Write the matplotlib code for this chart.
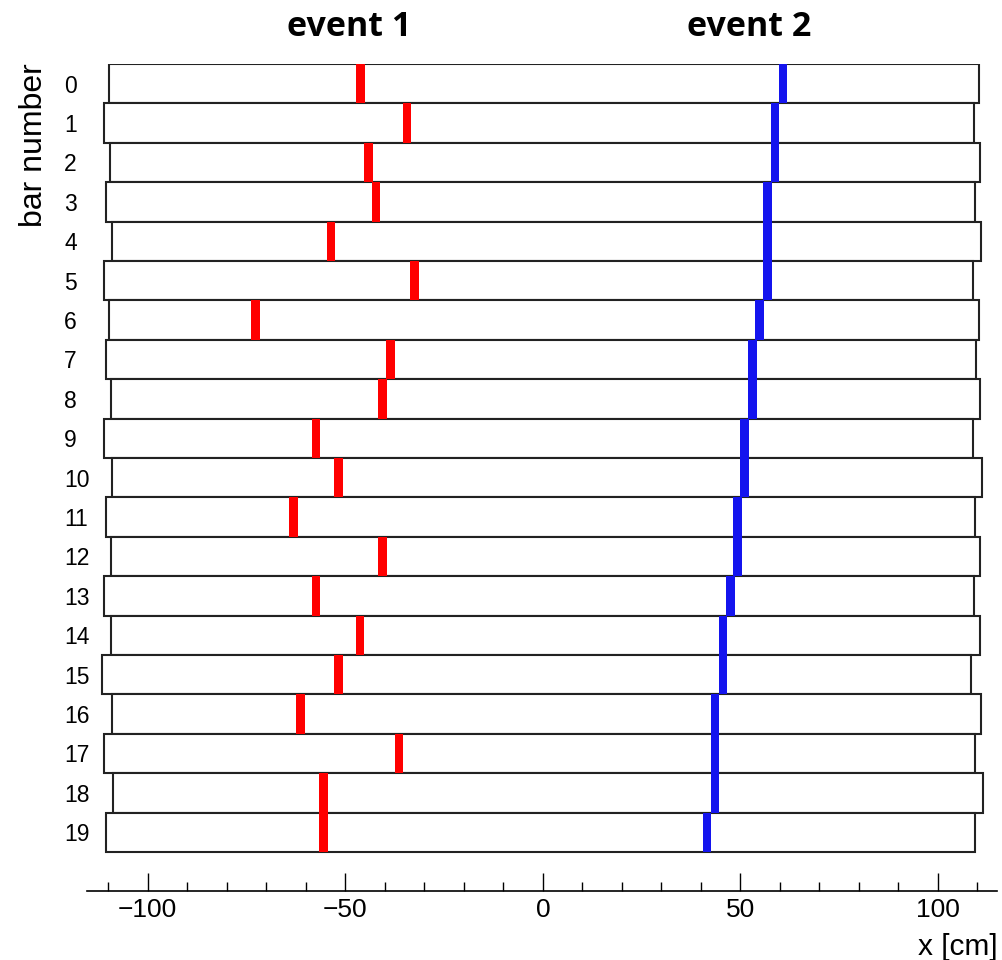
import matplotlib.pyplot as plt

# bar outlines (cm)
bar_left = [-109.8, -111.1, -109.5, -110.7, -109.1, -111.2, -109.7, -110.6, -109.4, -111.2,
            -109.1, -110.7, -109.4, -111.1, -109.4, -111.5, -109.0, -111.0, -108.7, -110.7]
bar_right = [110.4, 109.2, 110.7, 109.4, 111.0, 108.9, 110.5, 109.6, 110.8, 108.9,
             111.1, 109.4, 110.8, 109.2, 110.8, 108.5, 111.0, 109.3, 111.4, 109.4]

# hit positions (cm)
hit1 = [-46.1, -34.4, -44.2, -42.2, -53.6, -32.5, -72.8, -38.6, -40.6, -57.4,
        -51.8, -63.2, -40.6, -57.4, -46.3, -51.8, -61.4, -36.4, -55.6, -55.6]
hit2 = [60.8, 58.8, 58.8, 56.9, 56.9, 56.9, 54.9, 53.0, 53.0, 51.0,
        51.0, 49.2, 49.2, 47.5, 45.6, 45.6, 43.6, 43.6, 43.6, 41.6]

bars = list(range(20))
hit_w = 2.2

plt.rcParams['font.family'] = ['Liberation Sans', 'DejaVu Sans']

fig = plt.figure(figsize=(10.02, 9.6), dpi=100)
ax = fig.add_axes([0.0868, 0.0719, 0.9079, 0.8615])

widths = [r - l for l, r in zip(bar_left, bar_right)]
ax.barh(bars, widths, left=bar_left, height=1.0, facecolor='white',
        edgecolor='#222222', linewidth=1.5, zorder=1)
ax.barh(bars, [hit_w] * 20, left=[h - hit_w / 2 for h in hit1], height=1.0,
        color='#ff0000', linewidth=0, zorder=2)
ax.barh(bars, [hit_w] * 20, left=[h - hit_w / 2 for h in hit2], height=1.0,
        color='#1414ee', linewidth=0, zorder=2)

ax.set_xlim(-115.4, 114.9)
ax.set_ylim(20.49, -0.5)

for s in ['top', 'right', 'left']:
    ax.spines[s].set_visible(False)
ax.spines['bottom'].set_linewidth(1.2)

ax.set_xticks([-100, -50, 0, 50, 100])
ax.set_xticks(range(-110, 111, 10), minor=True)
ax.tick_params(axis='x', which='major', direction='in', length=12.7, width=1.0,
               labelsize=19, pad=5)
ax.tick_params(axis='x', which='minor', direction='in', length=6.5, width=1.0)
ax.set_yticks(bars)
ax.set_yticklabels([str(b) for b in bars], ha='left')
ax.tick_params(axis='y', length=0, labelsize=16.5, pad=16.5)

fig.text(0.996, 0.0135, 'x [cm]', ha='right', va='center', fontsize=21.5)
fig.text(34 / 1002, 1 - 63 / 960, 'bar number', ha='center', va='top',
         rotation=90, fontsize=23)
fig.text(349 / 1002, 0.972, 'event 1', ha='center', va='center', fontsize=24.5,
         fontweight='bold', family='Open Sans')
fig.text(749 / 1002, 0.972, 'event 2', ha='center', va='center', fontsize=24.5,
         fontweight='bold', family='Open Sans')

fig.savefig('out.png', dpi=100)
